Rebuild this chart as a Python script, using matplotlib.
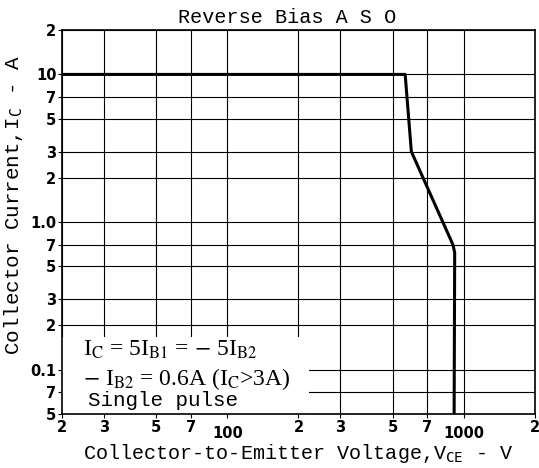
import matplotlib
matplotlib.use('Agg')
import matplotlib.pyplot as plt
from matplotlib.patches import Rectangle

# safe operating area curve (V, A)
vce = [20, 565, 600, 900, 915, 910]
ic = [10, 10, 3, 0.7, 0.62, 0.05]

xticks = [20, 30, 50, 70, 100, 200, 300, 500, 700, 1000, 2000]
xlabels = ['2', '3', '5', '7', '100', '2', '3', '5', '7', '1000', '2']
yticks = [0.05, 0.07, 0.1, 0.2, 0.3, 0.5, 0.7, 1.0, 2, 3, 5, 7, 10, 20]
ylabels = ['5', '7', '0.1', '2', '3', '5', '7', '1.0', '2', '3', '5', '7', '10', '2']

fig = plt.figure(figsize=(5.39, 4.68), dpi=100)
ax = fig.add_axes([0.115, 0.1154, 0.8776, 0.8205])
ax.set_xscale('log')
ax.set_yscale('log')
ax.set_xlim(20, 2000)
ax.set_ylim(0.05, 20)

ax.set_xticks(xticks)
ax.set_xticklabels(xlabels, fontweight='bold', fontsize=10.5)
ax.set_yticks(yticks)
ax.set_yticklabels(ylabels, fontweight='bold', fontsize=10.5)
ax.minorticks_off()
ax.tick_params(axis='both', direction='out', length=3, width=0.8, pad=1)
for lab in ax.get_xticklabels():
    if lab.get_text() in ('100', '1000'):
        lab.set_y(-0.017)

ax.grid(True, color='black', linewidth=0.8)
for sp in ax.spines.values():
    sp.set_linewidth(1.2)

# white area behind the conditions text
ax.add_patch(Rectangle((0, 0), 0.523, 0.2, transform=ax.transAxes,
                       facecolor='white', edgecolor='none', zorder=2.5))

ax.plot(vce, ic, color='black', linewidth=2.2, zorder=3)

tf = 'Liberation Serif'
ax.text(0.045, 0.167, r'I$_\mathrm{C}$ = 5I$_\mathrm{B1}$ = $-$ 5I$_\mathrm{B2}$',
        transform=ax.transAxes, fontsize=17, family=tf, zorder=4, va='center',
        math_fontfamily='stix')
ax.text(0.045, 0.091, r'$-$ I$_\mathrm{B2}$ = 0.6A (I$_\mathrm{C}$>3A)',
        transform=ax.transAxes, fontsize=17, family=tf, zorder=4, va='center',
        math_fontfamily='stix')
ax.text(0.055, 0.034, 'Single pulse', transform=ax.transAxes, fontsize=15,
        family='Liberation Mono', zorder=4, va='center')

mono = 'Liberation Mono'
ax.set_title('Reverse Bias A S O', family=mono, fontsize=14.5, pad=5, x=0.475)
ax.set_xlabel(r'Collector-to-Emitter Voltage,V$_\mathtt{CE}$ - V',
              family=mono, fontsize=14.5)
ax.xaxis.set_label_coords(0.5, -0.072)
ax.set_ylabel(r'Collector Current,I$_\mathtt{C}$ - A',
              family=mono, fontsize=15)
ax.yaxis.set_label_coords(-0.078, 0.545)

fig.savefig('out.png', dpi=100)
